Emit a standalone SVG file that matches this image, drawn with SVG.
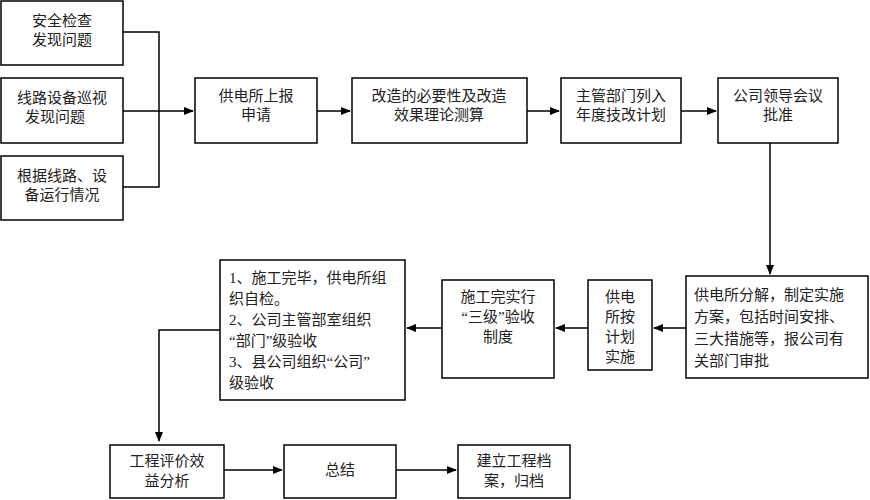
<svg xmlns="http://www.w3.org/2000/svg" width="870" height="500" viewBox="0 0 870 500">
<style>
rect{fill:#fff;stroke:#000;stroke-width:1.5}
text{font-family:"Liberation Serif","Noto Sans CJK SC",serif;font-size:15px;fill:#222}
.c{text-anchor:middle}
.l{fill:none;stroke:#000;stroke-width:1.5}
</style>
<defs><marker id="a" markerWidth="10" markerHeight="8" refX="9" refY="4" orient="auto" markerUnits="userSpaceOnUse"><path d="M0,0L10,4L0,8z" fill="#000"/></marker></defs>
<rect width="870" height="500" style="stroke:none"/>
<g id="connectors">
<path class="l" d="M123,32H159V187H123M123,111H193" marker-end="url(#a)"/>
<path class="l" d="M317,111H350" marker-end="url(#a)"/>
<path class="l" d="M527,111H559" marker-end="url(#a)"/>
<path class="l" d="M681,111H716" marker-end="url(#a)"/>
<path class="l" d="M770,143V274" marker-end="url(#a)"/>
<path class="l" d="M686,328H654" marker-end="url(#a)"/>
<path class="l" d="M588,328H556" marker-end="url(#a)"/>
<path class="l" d="M442,328H407" marker-end="url(#a)"/>
<path class="l" d="M220,330H159V441" marker-end="url(#a)"/>
<path class="l" d="M224,470H282" marker-end="url(#a)"/>
<path class="l" d="M396,470H456" marker-end="url(#a)"/>
</g>
<g id="n1"><rect x="1" y="1" width="122" height="64"/><text class="c" x="62" y="26">安全检查</text><text class="c" x="62" y="45">发现问题</text></g>
<g id="n2"><rect x="1" y="78" width="122" height="65"/><text class="c" x="62" y="103">线路设备巡视</text><text class="c" x="55" y="122">发现问题</text></g>
<g id="n3"><rect x="1" y="156" width="122" height="64"/><text class="c" x="62" y="181">根据线路、设</text><text class="c" x="62" y="200">备运行情况</text></g>
<g id="n4"><rect x="195" y="78" width="122" height="65"/><text class="c" x="256" y="101">供电所上报</text><text class="c" x="256" y="120">申请</text></g>
<g id="n5"><rect x="352" y="78" width="175" height="65"/><text class="c" x="439" y="101">改造的必要性及改造</text><text class="c" x="439" y="120">效果理论测算</text></g>
<g id="n6"><rect x="561" y="78" width="120" height="65"/><text class="c" x="621" y="101">主管部门列入</text><text class="c" x="621" y="120">年度技改计划</text></g>
<g id="n7"><rect x="718" y="78" width="120" height="65"/><text class="c" x="778" y="101">公司领导会议</text><text class="c" x="778" y="120">批准</text></g>
<g id="n8"><rect x="686" y="276" width="182" height="102"/><text x="694" y="300">供电所分解，制定实施</text><text x="694" y="322">方案，包括时间安排、</text><text x="694" y="344">三大措施等，报公司有</text><text x="694" y="366">关部门审批</text></g>
<g id="n9"><rect x="588" y="280" width="64" height="90"/><text class="c" x="620" y="302">供电</text><text class="c" x="620" y="322">所按</text><text class="c" x="620" y="342">计划</text><text class="c" x="620" y="362">实施</text></g>
<g id="n10"><rect x="442" y="280" width="112" height="98"/><text class="c" x="498" y="302">施工完实行</text><text class="c" x="498" y="322">“三级”验收</text><text class="c" x="498" y="342">制度</text></g>
<g id="n11"><rect x="220" y="260" width="185" height="140"/><text x="229" y="283">1、施工完毕，供电所组</text><text x="229" y="304">织自检。</text><text x="229" y="325">2、公司主管部室组织</text><text x="229" y="346">“部门”级验收</text><text x="229" y="367">3、县公司组织“公司”</text><text x="229" y="388">级验收</text></g>
<g id="n12"><rect x="110" y="445" width="114" height="53"/><text class="c" x="167" y="466">工程评价效</text><text class="c" x="167" y="486">益分析</text></g>
<g id="n13"><rect x="284" y="445" width="112" height="53"/><text class="c" x="340" y="475">总结</text></g>
<g id="n14"><rect x="458" y="445" width="112" height="53"/><text class="c" x="514" y="466">建立工程档</text><text class="c" x="514" y="486">案，归档</text></g>
</svg>
